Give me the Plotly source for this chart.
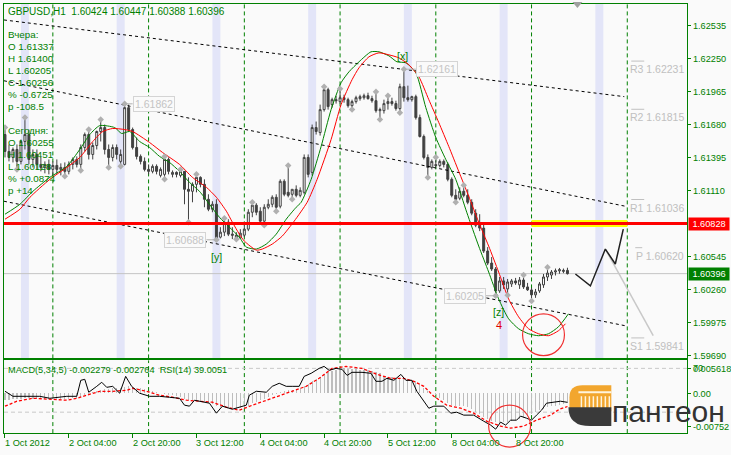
import plotly.graph_objects as go

W, H = 731, 455
BG = "#FAFAFA"
GREEN = "#008000"
FONT = "Liberation Sans"
FS = 9.2


def px(x):
    return x / W


def py(y):
    return 1 - y / H


# ---------------- data ----------------
# x axis: one slot per H1 bar (bar 0 = 1 Oct 2012 12:00)
tick_pos = [0, 16, 32, 48, 64, 80, 96, 112, 128]
tick_labels = ["1 Oct 2012", "2 Oct 04:00", "2 Oct 20:00", "3 Oct 12:00", "4 Oct 04:00",
               "4 Oct 20:00", "5 Oct 12:00", "8 Oct 04:00", "8 Oct 20:00"]
day_starts = [12, 36, 60, 84, 108, 132, 156]
band_starts = [4, 28, 52, 76, 100, 124, 148]

opens = [1.61597, 1.61451, 1.61399, 1.61468, 1.61365, 1.61537, 1.61597, 1.61382, 1.61425, 1.61339,
         1.61313, 1.61339, 1.61296, 1.61330, 1.61296, 1.61313, 1.61279, 1.61339, 1.61382, 1.61339,
         1.61485, 1.61597, 1.61425, 1.61502, 1.61623, 1.61657, 1.61468, 1.61399, 1.61485, 1.61365,
         1.61339, 1.61829, 1.61640, 1.61485, 1.61408, 1.61365, 1.61296, 1.61279, 1.61322, 1.61244,
         1.61253, 1.61382, 1.61253, 1.61270, 1.61244, 1.61279, 1.61124, 1.61107, 1.61167, 1.61227,
         1.61167, 1.61038, 1.60952, 1.60995, 1.60711, 1.60754, 1.60840, 1.60737, 1.60728, 1.60705,
         1.60728, 1.60780, 1.60926, 1.60987, 1.60935, 1.60849, 1.60969, 1.60995, 1.61055, 1.60978,
         1.61193, 1.61098, 1.61081, 1.61124, 1.61072, 1.61098, 1.61399, 1.61270, 1.61657, 1.61614,
         1.61812, 1.61984, 1.61855, 1.61898, 1.61881, 1.61915, 1.61898, 1.61846, 1.61881, 1.61907,
         1.61915, 1.61932, 1.61907, 1.61889, 1.61803, 1.61803, 1.61864, 1.61881, 1.61864, 1.61821,
         1.62010, 1.61915, 1.61898, 1.61924, 1.61743, 1.61580, 1.61399, 1.61313, 1.61337, 1.61330,
         1.61365, 1.61339, 1.61210, 1.61072, 1.61047, 1.61107, 1.61072, 1.61012, 1.60918, 1.60814,
         1.60789, 1.60591, 1.60487, 1.60436, 1.60247, 1.60333, 1.60264, 1.60307, 1.60333, 1.60299,
         1.60341, 1.60281, 1.60255, 1.60213, 1.60247, 1.60299, 1.60367, 1.60384, 1.60410, 1.60420,
         1.60415, 1.60424]
highs = [1.61657, 1.61511, 1.61485, 1.61511, 1.61554, 1.61743, 1.61640, 1.61468, 1.61468, 1.61399,
         1.61365, 1.61382, 1.61365, 1.61382, 1.61348, 1.61356, 1.61365, 1.61399, 1.61408, 1.61511,
         1.61614, 1.61640, 1.61528, 1.61631, 1.61726, 1.61683, 1.61511, 1.61511, 1.61511, 1.61468,
         1.61862, 1.61855, 1.61657, 1.61571, 1.61425, 1.61399, 1.61339, 1.61339, 1.61339, 1.61313,
         1.61408, 1.61399, 1.61287, 1.61279, 1.61296, 1.61279, 1.61227, 1.61184, 1.61253, 1.61236,
         1.61210, 1.61081, 1.61021, 1.61038, 1.60797, 1.60875, 1.60866, 1.60797, 1.60754, 1.60780,
         1.60823, 1.60952, 1.61012, 1.61004, 1.60969, 1.60995, 1.61038, 1.61072, 1.61081, 1.61210,
         1.61210, 1.61330, 1.61124, 1.61158, 1.61141, 1.61425, 1.61425, 1.61683, 1.61709, 1.61855,
         1.62010, 1.62001, 1.61915, 1.61932, 1.61993, 1.61941, 1.61915, 1.61898, 1.61932, 1.61941,
         1.61950, 1.61958, 1.61932, 1.61967, 1.61829, 1.61898, 1.61932, 1.61915, 1.61889, 1.62036,
         1.62161, 1.62019, 1.61932, 1.61941, 1.61769, 1.61597, 1.61425, 1.61382, 1.61400, 1.61382,
         1.61382, 1.61356, 1.61227, 1.61124, 1.61141, 1.61158, 1.61124, 1.61038, 1.60952, 1.60909,
         1.60823, 1.60625, 1.60539, 1.60453, 1.60367, 1.60367, 1.60350, 1.60350, 1.60359, 1.60367,
         1.60384, 1.60316, 1.60273, 1.60264, 1.60324, 1.60393, 1.60451, 1.60427, 1.60440, 1.60445,
         1.60440, 1.60447]
lows = [1.61399, 1.61365, 1.61356, 1.61296, 1.61339, 1.61468, 1.61339, 1.61313, 1.61296, 1.61279,
        1.61262, 1.61253, 1.61244, 1.61262, 1.61244, 1.61236, 1.61253, 1.61296, 1.61313, 1.61287,
        1.61451, 1.61382, 1.61382, 1.61468, 1.61537, 1.61425, 1.61313, 1.61365, 1.61382, 1.61322,
        1.61330, 1.61623, 1.61468, 1.61382, 1.61339, 1.61279, 1.61253, 1.61262, 1.61253, 1.61227,
        1.61210, 1.61253, 1.61227, 1.61227, 1.61227, 1.60995, 1.60840, 1.61012, 1.61098, 1.61141,
        1.60969, 1.60935, 1.60926, 1.60688, 1.60700, 1.60720, 1.60720, 1.60694, 1.60692, 1.60700,
        1.60711, 1.60763, 1.60883, 1.60900, 1.60823, 1.60814, 1.60952, 1.60969, 1.60935, 1.60960,
        1.61064, 1.61055, 1.61038, 1.61055, 1.61055, 1.61081, 1.61227, 1.61244, 1.61597, 1.61588,
        1.61795, 1.61812, 1.61829, 1.61864, 1.61864, 1.61872, 1.61829, 1.61812, 1.61864, 1.61889,
        1.61898, 1.61898, 1.61872, 1.61786, 1.61726, 1.61778, 1.61812, 1.61846, 1.61803, 1.61786,
        1.61881, 1.61881, 1.61881, 1.61726, 1.61571, 1.61382, 1.61227, 1.61296, 1.61313, 1.61313,
        1.61313, 1.61193, 1.61055, 1.61012, 1.61030, 1.61055, 1.60995, 1.60900, 1.60797, 1.60763,
        1.60574, 1.60470, 1.60419, 1.60205, 1.60230, 1.60264, 1.60210, 1.60281, 1.60299, 1.60264,
        1.60264, 1.60247, 1.60160, 1.60187, 1.60230, 1.60273, 1.60333, 1.60350, 1.60380, 1.60395,
        1.60400, 1.60388]
closes = [1.61451, 1.61399, 1.61468, 1.61365, 1.61537, 1.61597, 1.61382, 1.61425, 1.61339, 1.61313,
          1.61339, 1.61296, 1.61330, 1.61296, 1.61313, 1.61279, 1.61339, 1.61382, 1.61339, 1.61485,
          1.61597, 1.61425, 1.61502, 1.61623, 1.61657, 1.61468, 1.61399, 1.61485, 1.61425, 1.61425,
          1.61829, 1.61640, 1.61485, 1.61408, 1.61365, 1.61296, 1.61279, 1.61322, 1.61279, 1.61296,
          1.61382, 1.61279, 1.61270, 1.61253, 1.61279, 1.61124, 1.61107, 1.61167, 1.61227, 1.61167,
          1.61038, 1.60952, 1.60995, 1.60694, 1.60754, 1.60840, 1.60737, 1.60728, 1.60700, 1.60745,
          1.60780, 1.60926, 1.60987, 1.60926, 1.60849, 1.60969, 1.60995, 1.61055, 1.60969, 1.61193,
          1.61081, 1.61072, 1.61124, 1.61072, 1.61115, 1.61399, 1.61253, 1.61657, 1.61623, 1.61812,
          1.61984, 1.61838, 1.61898, 1.61889, 1.61915, 1.61898, 1.61846, 1.61881, 1.61915, 1.61924,
          1.61932, 1.61907, 1.61889, 1.61803, 1.61812, 1.61864, 1.61881, 1.61864, 1.61821, 1.62010,
          1.61915, 1.61898, 1.61924, 1.61743, 1.61580, 1.61399, 1.61313, 1.61365, 1.61330, 1.61365,
          1.61339, 1.61210, 1.61072, 1.61038, 1.61107, 1.61072, 1.61012, 1.60918, 1.60814, 1.60789,
          1.60591, 1.60487, 1.60436, 1.60247, 1.60333, 1.60299, 1.60324, 1.60333, 1.60316, 1.60341,
          1.60281, 1.60256, 1.60213, 1.60238, 1.60307, 1.60367, 1.60401, 1.60410, 1.60420, 1.60430,
          1.60424, 1.60396]

frac_hi_idx = [0, 5, 21, 24, 30, 40, 44, 48, 55, 62, 71, 80, 84, 93, 96, 100, 108, 115, 130, 136]
frac_lo_idx = [3, 15, 19, 26, 29, 40, 46, 53, 58, 65, 68, 72, 87, 94, 99, 106, 113, 123, 126, 132]

ma_green_x = [0, 3.75, 7, 11.25, 15.5, 18.75, 21.25, 23.75, 27.5, 29.25,
              31.25, 33.75, 36.25, 38.75, 41.25, 43.75, 46.25, 48.75, 51.25, 53.75,
              56.25, 58.75, 60.5, 63, 65.5, 68, 70.5, 73, 74.25, 76.75,
              79.25, 81.75, 84.25, 86.25, 88.75, 91.75, 93.75, 96.25, 98.25, 100.5,
              103, 105.5, 108, 110.5, 113, 115.75, 118.75, 121.25, 123.75, 126.25,
              128.75, 131.25, 133.75, 136.25, 138.75, 141.25]
ma_green = [1.60909, 1.60995, 1.61107, 1.61227, 1.61322, 1.61468, 1.61597, 1.61674, 1.61657, 1.61606,
            1.61623, 1.61537, 1.61485, 1.61408, 1.61356, 1.61279, 1.61184, 1.61107, 1.60995, 1.60883,
            1.60797, 1.60711, 1.60625, 1.60608, 1.60651, 1.60737, 1.60866, 1.60969, 1.61012, 1.61210,
            1.61494, 1.61812, 1.62044, 1.62139, 1.62225, 1.62311, 1.62311, 1.62276, 1.62225, 1.62216,
            1.62130, 1.61829, 1.61571, 1.61382, 1.61210, 1.60926, 1.60634, 1.60410, 1.60178, 1.60006,
            1.59920, 1.59877, 1.59860, 1.59877, 1.59937, 1.60049]
ma_red_x = [0, 3.75, 6.25, 11.25, 15.5, 18.75, 22, 24.5, 27, 30,
            32, 36.25, 39.5, 43.75, 47, 50.5, 53, 55.5, 57, 58.75,
            60, 63, 64.5, 67, 69.5, 72.5, 75.75, 78.25, 81.75, 84.25,
            87, 88.75, 91.25, 93.75, 96.25, 98.75, 101.25, 103.75, 106.25, 108.75,
            111.25, 113.75, 116.25, 118.75, 121.25, 123.75, 126.25, 128.75, 131.25, 133.75,
            136.25, 138.75, 140.5]
ma_red = [1.60866, 1.60952, 1.61055, 1.61210, 1.61313, 1.61399, 1.61537, 1.61623, 1.61649, 1.61640,
          1.61623, 1.61528, 1.61442, 1.61339, 1.61227, 1.61141, 1.61055, 1.60935, 1.60840, 1.60737,
          1.60677, 1.60599, 1.60608, 1.60651, 1.60720, 1.60849, 1.61012, 1.61210, 1.61554, 1.61855,
          1.62070, 1.62173, 1.62268, 1.62302, 1.62285, 1.62259, 1.62199, 1.62096, 1.61898, 1.61700,
          1.61494, 1.61279, 1.61064, 1.60840, 1.60634, 1.60410, 1.60178, 1.60023, 1.59920, 1.59877,
          1.59860, 1.59903, 1.59963]

# dotted channel lines (start / end bar, start / end price)
trend_x = [[-0.25, 155.25], [-0.25, 155.5], [-0.25, 155.5]]
trend_y = [[1.62586, 1.61924], [1.62061, 1.60978], [1.61021, 1.59946]]

# hand-drawn projection lines
proj_black_x = [143, 146.75, 150.5, 153, 155]
proj_black_y = [1.60393, 1.60290, 1.60608, 1.60479, 1.60780]
proj_gray_x = [150.5, 162.5]
proj_gray_y = [1.60608, 1.59860]

level_red = 1.60828
pivot_names = ["R3", "R2", "R1", "P", "S1"]
pivot_levels = [1.62231, 1.61815, 1.61036, 1.60620, 1.59841]

main_ticks = [1.62535, 1.62250, 1.61965, 1.61680, 1.61395, 1.61110, 1.60545, 1.60260, 1.59975, 1.59690]

macd_hist = [-0.00150, -0.00145, -0.00140, -0.00140, -0.00130, -0.00115, -0.00115, -0.00120, -0.00125, -0.00130,
             -0.00130, -0.00132, -0.00135, -0.00135, -0.00130, -0.00128, -0.00120, -0.00110, -0.00100,
             -0.00080, -0.00040, -0.00010, 0.00020, 0.00050, 0.00080, 0.00100, 0.00105, 0.00110, 0.00115,
             0.00115, 0.00150, 0.00165, 0.00150, 0.00130, 0.00110, 0.00090, 0.00060, 0.00040, 0.00020,
             0.00000, -0.00010,
             -0.00030, -0.00050, -0.00070, -0.00085, -0.00120, -0.00150, -0.00160, -0.00165, -0.00175, -0.00200,
             -0.00230, -0.00250, -0.00300, -0.00320, -0.00320, -0.00330, -0.00340, -0.00350, -0.00345, -0.00335,
             -0.00290, -0.00230, -0.00190, -0.00160, -0.00120, -0.00080, -0.00040, -0.00010, 0.00030, 0.00050,
             0.00070, 0.00080, 0.00090, 0.00110, 0.00160,
             0.00200, 0.00270, 0.00320, 0.00380, 0.00440, 0.00480, 0.00510, 0.00530, 0.00550, 0.00562,
             0.00555, 0.00545, 0.00540, 0.00535, 0.00530,
             0.00520, 0.00505, 0.00480, 0.00455, 0.00400, 0.00380, 0.00360, 0.00340, 0.00340, 0.00350,
             0.00330, 0.00300,
             0.00270, 0.00200, 0.00130, 0.00060, 0.00010, -0.00040, -0.00100, -0.00160, -0.00220, -0.00260,
             -0.00290, -0.00300, -0.00300, -0.00320, -0.00360, -0.00420, -0.00480, -0.00540, -0.00590, -0.00630,
             -0.00660, -0.00665, -0.00660, -0.00650, -0.00630, -0.00610, -0.00580, -0.00550, -0.00510, -0.00470,
             -0.00430, -0.00390, -0.00350, -0.00320, -0.00300, -0.00280, -0.00260, -0.00245, -0.00228]

signal_x = [0, 3, 7, 11.25, 15.5, 18, 20.5, 23.75, 27, 30.5,
            32, 35.5, 38.75, 42, 45.5, 48.75, 52, 55.5, 58.75, 62,
            65.5, 68.75, 72, 75.5, 78.75, 82, 85.5, 89.5, 93.25, 96.75,
            100, 102.5, 105, 107.5, 110.75, 114.25, 117.5, 120.75, 124.25, 126.75,
            130, 133.25, 136.75, 139, 141]
signal = [-0.00293, -0.00181, -0.00113, -0.00135, -0.00158, -0.00113, -0.00045, 0.00045, 0.00045, 0.00068,
          0.00113, 0.00045, -0.00045, -0.00090, -0.00158, -0.00181, -0.00203, -0.00316, -0.00384, -0.00271,
          -0.00158, -0.00045, 0.00045, 0.00158, 0.00339, 0.00564, 0.00609, 0.00564, 0.00429, 0.00339,
          0.00339, 0.00271, 0.00158, -0.00068, -0.00271, -0.00339, -0.00451, -0.00632, -0.00745, -0.00790,
          -0.00745, -0.00609, -0.00497, -0.00360, -0.00300]

rsi_x = [0, 2, 5.5, 8.75, 11.25, 15.5, 18, 19, 20, 21, 23, 24.25, 25.5, 27, 28.75, 30.25, 31.75, 33.75,
         36.25, 38.75, 41.25, 43.75, 45, 46.25, 47.5, 48.75, 51.25, 53, 54.5, 57, 60.5, 61.25, 63, 65.5,
         67, 68.75, 70.5, 72, 73.75, 75, 76.75, 78.75, 80, 81.25, 83, 84.5, 85.75, 87, 89.5, 91.75, 93,
         94.5, 95.75, 97.5, 99.25, 100.5, 102, 103.25, 105, 106.25, 107.5, 110, 111.75, 113.25, 115,
         117.5, 120, 121.75, 123, 124.25, 125.5, 126.75, 128.25, 129.25, 130.75, 132, 133.25, 134.5,
         135.75, 137.5, 139.25, 141]
rsi = [49.1, 44.5, 44.5, 44.5, 42.7, 44.5, 44.5, 59.1, 60.0, 48.2, 53.6, 57.3, 52.7, 53.6, 47.3, 62.7, 53.6, 47.3,
       44.5, 44.5, 43.6, 42.7, 36.4, 35.5, 40.9, 40.0, 38.2, 29.1, 35.5, 32.7, 36.4, 45.5, 49.1, 48.2,
       53.6, 56.4, 53.6, 53.6, 53.6, 62.7, 65.5, 70.0, 71.8, 68.2, 70.0, 69.1, 63.6, 66.4, 66.4, 65.5, 58.2,
       58.2, 60.9, 59.1, 64.5, 59.1, 59.1, 49.1, 40.0, 33.6, 35.5, 35.5, 29.1, 30.0, 27.3,
       27.3, 21.8, 18.2, 14.5, 20.9, 18.2, 22.7, 22.7, 26.4, 24.5, 22.7, 27.3, 31.8,
       38.2, 39.1, 40.0, 39.0]
rsi_levels = [70, 30]

bar_idx = list(range(len(opens)))

# ---------------- figure ----------------
fig = go.Figure()

fig.add_trace(go.Candlestick(
    x=bar_idx, open=opens, high=highs, low=lows, close=closes,
    increasing=dict(line=dict(color="#404040", width=1), fillcolor="#FFFFFF"),
    decreasing=dict(line=dict(color="#404040", width=1), fillcolor="#404040"),
    whiskerwidth=0, xaxis="x", yaxis="y", hoverinfo="skip"))

for tx, ty in zip(trend_x, trend_y):
    fig.add_trace(go.Scatter(x=tx, y=ty, mode="lines", xaxis="x", yaxis="y",
                             line=dict(color="#000000", width=1, dash="3px,3px")))

fig.add_trace(go.Scatter(x=ma_green_x, y=ma_green, mode="lines", xaxis="x", yaxis="y",
                         line=dict(color="#008000", width=1, shape="spline", smoothing=0.6)))
fig.add_trace(go.Scatter(x=ma_red_x, y=ma_red, mode="lines", xaxis="x", yaxis="y",
                         line=dict(color="#FF0000", width=1, shape="spline", smoothing=0.6)))

fig.add_trace(go.Scatter(x=frac_hi_idx, y=[highs[i] for i in frac_hi_idx], mode="markers",
                         xaxis="x", yaxis="y",
                         marker=dict(symbol="diamond", size=5, color="#B0B0B0")))
fig.add_trace(go.Scatter(x=frac_lo_idx, y=[lows[i] for i in frac_lo_idx], mode="markers",
                         xaxis="x", yaxis="y",
                         marker=dict(symbol="diamond", size=5, color="#B0B0B0")))

fig.add_trace(go.Scatter(x=proj_gray_x, y=proj_gray_y, mode="lines", xaxis="x", yaxis="y",
                         line=dict(color="#C8C8C8", width=1.5)))
fig.add_trace(go.Scatter(x=proj_black_x, y=proj_black_y, mode="lines", xaxis="x", yaxis="y",
                         line=dict(color="#202020", width=1.5)))

# lower panel
fig.add_trace(go.Bar(x=bar_idx, y=macd_hist, width=0.3, xaxis="x2", yaxis="y2",
                     marker=dict(color="#BDBDBD", line=dict(width=0))))
fig.add_trace(go.Scatter(x=signal_x, y=signal, mode="lines", xaxis="x2", yaxis="y2",
                         line=dict(color="#FF0000", width=1.3, dash="3px,2px")))
fig.add_trace(go.Scatter(x=rsi_x, y=rsi, mode="lines", xaxis="x2", yaxis="y3",
                         line=dict(color="#000000", width=1)))

# ---------------- shapes ----------------
shapes = []
for b in band_starts:
    shapes.append(dict(type="rect", xref="x", yref="y domain", x0=b, x1=b + 2, y0=0, y1=1,
                       fillcolor="#E3E5F8", line=dict(width=0), layer="below"))
shapes.append(dict(type="line", xref="x domain", yref="y", x0=0, x1=1, y0=closes[-1], y1=closes[-1],
                   line=dict(color="#C4C4C4", width=1), layer="below"))
for d in day_starts:
    for yr in ("y domain", "y2 domain"):
        shapes.append(dict(type="line", xref="x" if yr == "y domain" else "x2", yref=yr,
                           x0=d, x1=d, y0=0, y1=1,
                           line=dict(color=GREEN, width=1, dash="4px,3px"), layer="below"))
for lv in rsi_levels:
    shapes.append(dict(type="line", xref="x2 domain", yref="y3", x0=0, x1=1, y0=lv, y1=lv,
                       line=dict(color="#C8C8C8", width=1, dash="4px,3px"), layer="below"))

shapes.append(dict(type="line", xref="x", yref="y", x0=day_starts[5], x1=day_starts[6],
                   y0=level_red, y1=level_red, line=dict(color="#FFFF00", width=7), layer="above"))
shapes.append(dict(type="line", xref="x domain", yref="y", x0=0, x1=1, y0=level_red, y1=level_red,
                   line=dict(color="#FF0000", width=3), layer="above"))

# pivot overlines
for name, lv in zip(pivot_names, pivot_levels):
    x0 = 633 if len(name) == 2 else 637
    x1 = x0 + (13 if len(name) == 2 else 7)
    shapes.append(dict(type="line", xref="paper", yref="y", x0=px(x0), x1=px(x1), y0=lv, y1=lv,
                       line=dict(color="#C0C0C0", width=1)))

# connectors to price labels
ext_bars = [30, 53, 100, 123]
ext_kind = ["high", "low", "high", "low"]
ext_box_x = [32, 50.5, 103, 120.5]
ext_anchor = ["left", "right", "left", "right"]
for b, k, bx in zip(ext_bars, ext_kind, ext_box_x):
    v = highs[b] if k == "high" else lows[b]
    shapes.append(dict(type="line", xref="x", yref="y", x0=b + 0.5 if bx > b else b - 0.5, x1=bx,
                       y0=v, y1=v, line=dict(color="#B0B0B0", width=1)))

# circles
shapes.append(dict(type="circle", xref="x", yref="y", x0=129.75, x1=140.25, y0=1.59688, y1=1.60049,
                   line=dict(color="#F03030", width=1.2)))
shapes.append(dict(type="circle", xref="x2", yref="paper", x0=121.25, x1=131.75, y0=py(449), y1=py(407),
                   line=dict(color="#F03030", width=1.2)))

# chart-shift triangle
shapes.append(dict(type="path", xref="paper", yref="paper",
                   path=f"M {px(574)},{py(2)} L {px(584)},{py(2)} L {px(579)},{py(8)} Z",
                   fillcolor="#A0A0A0", line=dict(width=0)))

# logo
shapes.append(dict(type="path", xref="paper", yref="paper",
                   path=(f"M {px(571)},{py(413)} L {px(571)},{py(399)} Q {px(571)},{py(387)} {px(584)},{py(387)} "
                         f"L {px(613)},{py(387)} L {px(613)},{py(413)} Z"),
                   fillcolor="#F2A62E", line=dict(width=0)))
shapes.append(dict(type="line", xref="paper", yref="paper", x0=px(580), x1=px(613), y0=py(394), y1=py(394),
                   line=dict(color="#FFF4DC", width=2)))
for cx in [583, 587, 591, 595, 599, 603, 607, 611]:
    shapes.append(dict(type="line", xref="paper", yref="paper", x0=px(cx), x1=px(cx), y0=py(398), y1=py(411),
                       line=dict(color="#FFF4DC", width=1.5)))
shapes.append(dict(type="path", xref="paper", yref="paper",
                   path=(f"M {px(570)},{py(409)} L {px(613)},{py(409)} L {px(613)},{py(428)} "
                         f"L {px(592)},{py(428)} Q {px(570)},{py(428)} {px(570)},{py(409)} Z"),
                   fillcolor="#3A3A3A", line=dict(width=0)))

# ---------------- annotations ----------------
ann = []
tf = dict(family=FONT, size=FS, color=GREEN)


def txt(x, y, text, font=tf, xanchor="left", **kw):
    ann.append(dict(x=px(x), y=py(y), xref="paper", yref="paper", text=text, showarrow=False,
                    xanchor=xanchor, yanchor="middle", font=font, **kw))


header = "GBPUSD,H1\u00a0\u00a0{:.5f} {:.5f} {:.5f} {:.5f}".format(opens[-1], highs[-1], lows[-1], closes[-1])
txt(6, 12, header, font=dict(family=FONT, size=10, color=GREEN))
info = [("Вчера:", 35), ("O 1.61337", 47), ("H 1.61400", 59), ("L 1.60205", 71), ("C 1.60256", 83),
        ("% -0.6725", 95), ("p -108.5", 107), ("Сегодня:", 131), ("O 1.60255", 143),
        ("H 1.60451", 155), ("L 1.60128", 167), ("% +0.0874", 179), ("p +14", 191)]
for t, y in info:
    txt(6, y, t, font=dict(family=FONT, size=9.8, color=GREEN))
txt(6, 372, "MACD(5,34,5) -0.002279 -0.002764\u00a0\u00a0RSI(14) 39.0051")

for pos, lab in zip(tick_pos, tick_labels):
    ann.append(dict(x=pos, xref="x2", y=py(445), yref="paper", text=lab, showarrow=False,
                    xanchor="left", yanchor="middle", xshift=-2, font=tf))

# boxed price labels on the right axis
for val, col in [(level_red, "#FF0000"), (closes[-1], GREEN)]:
    ann.append(dict(x=px(690), xref="paper", y=val, yref="y", text=f"{val:.5f}", showarrow=False,
                    xanchor="left", yanchor="middle", bgcolor=col, borderpad=1, width=38,
                    font=dict(family=FONT, size=FS, color="#FFFFFF")))
txt(693, 370, "70")

# pivot labels
for name, lv in zip(pivot_names, pivot_levels):
    ann.append(dict(x=px(688), xref="paper", y=lv, yref="y", text=f"{name} {lv:.5f}", showarrow=False,
                    xanchor="right", yanchor="top", yshift=0,
                    font=dict(family=FONT, size=10.5, color="#C0C0C0")))

# high / low labels
for b, k, bx, anc in zip(ext_bars, ext_kind, ext_box_x, ext_anchor):
    v = highs[b] if k == "high" else lows[b]
    ann.append(dict(x=bx, xref="x", y=v, yref="y", text=f"{v:.5f}", showarrow=False,
                    xanchor=anc, yanchor="middle", bgcolor=BG, bordercolor="#D4D4D4", borderwidth=1,
                    borderpad=1, font=dict(family=FONT, size=10.5, color="#C4C4C4")))

wave_font = dict(family=FONT, size=10.5, color=GREEN)
ann.append(dict(x=53, xref="x", y=lows[53], yref="y", text="[y]", showarrow=False, yshift=-17,
                font=wave_font))
ann.append(dict(x=100, xref="x", y=highs[100], yref="y", text="[x]", showarrow=False, yshift=13,
                xshift=-1, font=wave_font))
ann.append(dict(x=123, xref="x", y=lows[123], yref="y", text="[z]", showarrow=False, yshift=-16,
                xshift=3, font=wave_font))
ann.append(dict(x=123, xref="x", y=lows[123], yref="y", text="4", showarrow=False, yshift=-29,
                xshift=3, font=dict(family=FONT, size=11, color="#E00000")))

# logo text
ann.append(dict(x=px(612), y=py(413), xref="paper", yref="paper", text="пантеон", showarrow=False,
                xanchor="left", yanchor="middle",
                font=dict(family=FONT, size=30, color="#333333")))

axis_common = dict(showgrid=False, zeroline=False, showline=True, mirror=True, linecolor=GREEN,
                   linewidth=1, fixedrange=True)

fig.update_layout(
    width=W, height=H, margin=dict(l=0, r=0, t=0, b=0), autosize=False,
    paper_bgcolor=BG, plot_bgcolor=BG, showlegend=False, hovermode=False, bargap=0,
    font=dict(family=FONT, size=FS, color=GREEN),
    xaxis=dict(domain=[px(4), px(689)], range=[-0.25, 171], anchor="y", showticklabels=False, ticks="",
               rangeslider=dict(visible=False), **axis_common),
    yaxis=dict(domain=[py(360), py(4)], range=[1.59664, 1.62724], side="right", anchor="x",
               tickvals=main_ticks, ticktext=[f"{v:.5f}" for v in main_ticks], ticks="outside",
               ticklen=3, tickcolor=GREEN, tickfont=dict(family=FONT, size=FS, color=GREEN),
               **axis_common),
    xaxis2=dict(domain=[px(4), px(689)], range=[-0.25, 171], anchor="y2", tickvals=tick_pos,
                ticks="outside", ticklen=4, tickcolor=GREEN, showticklabels=False, **axis_common),
    yaxis2=dict(domain=[py(435), py(362)], range=[-0.00903, 0.00745], side="right", anchor="x2",
                tickvals=[0.005618, 0, -0.00752], ticktext=["0.005618", "0.00", "-0.00752"],
                ticks="outside", ticklen=3, tickcolor=GREEN,
                tickfont=dict(family=FONT, size=FS, color=GREEN), **axis_common),
    yaxis3=dict(overlaying="y2", anchor="x2", range=[10.91, 77.27], visible=False, fixedrange=True),
    shapes=shapes, annotations=ann,
)

fig.write_html("out.html", config={"displayModeBar": False, "staticPlot": True},
               post_script="document.body.style.margin='0';document.body.style.padding='0';"
                           "document.body.style.overflow='hidden';")
